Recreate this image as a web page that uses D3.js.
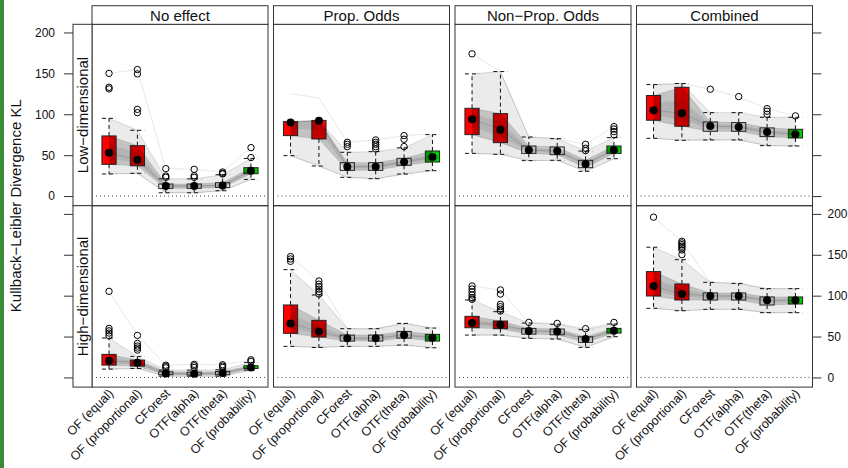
<!DOCTYPE html>
<html>
<head>
<meta charset="utf-8">
<script src="https://cdn.jsdelivr.net/npm/d3@7"></script>
<style>
  body { margin: 0; background: #fff; }
  svg { display: block; font-family: "Liberation Sans", Arial, Helvetica, sans-serif; }
</style>
</head>
<body>
<svg id="chart" width="848" height="468"></svg>
<script>
// ---- data ---------------------------------------------------------------
const methods = ["OF (equal)", "OF (proportional)", "CForest", "OTF(alpha)", "OTF(theta)", "OF (probability)"];
const effects = ["No effect", "Prop. Odds", "Non\u2212Prop. Odds", "Combined"];
const dimensions = ["Low\u2212dimensional", "High\u2212dimensional"];
const yTicks = [0, 50, 100, 150, 200];

// per method: [lower whisker, Q1, median, Q3, upper whisker]
const lowNoEffect = [
  [27, 38.8, 53, 73.5, 95], [27.8, 37, 44, 61.6, 80.4], [4, 9.4, 12.2, 14.7, 21],
  [4, 9.4, 12.2, 14.7, 21], [6.5, 10.6, 13, 16.3, 26], [20.4, 27.3, 31, 34.7, 46]];
const lowNoEffectOut = [[150, 133, 131], [154.7, 149.4, 106, 102], [33.5, 24.5, 22.9],
  [32.7, 24.9, 22.9], [29.4, 27.8, 27], [59.2, 47]];

const lowPropOdds = [
  [49.4, 73.9, 90, 91, 91], [36.7, 69.8, 92.2, 92.5, 92.5], [22.9, 31.4, 35.9, 40.8, 53.5],
  [21.2, 31.4, 35.9, 40.8, 54.3], [26.9, 37.6, 41.6, 46.1, 59], [31, 41.6, 47.8, 55.1, 75.1]];
const lowPropOddsOut = [[], [], [65.7, 63.3, 60.4], [68.6, 65.7, 63.3, 60.4, 57.6],
  [73.9, 69.4, 60.5], []];
// highest simulation traces reach above the boxes here
const lowPropOddsTraceTop = [125, 120, 56, 56, 62, 76];

const lowNonPropOdds = [
  [52.2, 75.1, 93.9, 107.3, 149.4], [51, 65.3, 81.2, 100.8, 152.2], [43.3, 52.2, 56.3, 61.2, 72.2],
  [43.7, 50.6, 55.1, 60, 70.2], [30.2, 34.7, 39.2, 43.7, 55], [45.7, 52.2, 56.3, 61.2, 71.4]];
const lowNonPropOddsOut = [[173.9], [], [], [], [63.3, 58.4, 55.5], [84.9, 82, 78.8, 75.1]];

const lowCombined = [
  [70.6, 92.7, 104.9, 122.9, 136.3], [68.2, 85.3, 101.2, 133, 137.6], [68.6, 79.2, 85.7, 90.6, 102],
  [68.6, 79.2, 84.5, 89.8, 102], [61.6, 72.7, 78.4, 83.3, 96.3], [61.2, 71, 75.5, 81.6, 96.3]];
const lowCombinedOut = [[], [], [130.6], [121.6], [106.9, 103.7, 100], [98]];

const highNoEffect = [
  [10.2, 15.1, 20.4, 28.2, 48.2], [11, 13.9, 18, 21.2, 25.7], [1.6, 3.3, 4.9, 6.9, 9],
  [1.6, 3, 4.5, 6.5, 9], [1.6, 3.3, 5.3, 7.3, 9.4], [9, 11, 12.2, 14.3, 18.4]];
const highNoEffectOut = [[105.3, 60, 57, 54.3, 51], [51.4, 41.6, 38.4, 36, 33.5], [15, 13.5, 11.8],
  [16, 14.3, 12.2], [15.5, 13.9, 12.2], [21.6, 19.6]];

const highPropOdds = [
  [38, 53.9, 66.1, 88.6, 131.8], [36.7, 49.4, 56.3, 69.8, 100.8], [38, 44.5, 47.8, 51.8, 59.6],
  [38, 44.5, 47.8, 51.8, 59.6], [39.6, 48.2, 51.8, 56.3, 66.1], [36.3, 44.5, 48.6, 52.7, 60.4]];
const highPropOddsOut = [[147.8, 144.9, 142], [118, 114, 111, 108, 105, 102], [], [], [], []];

const highNonPropOdds = [
  [51.8, 60.8, 66.5, 74.7, 94.7], [51.8, 59.6, 64.5, 69, 80.4], [47.8, 53, 56.7, 60, 66.5],
  [47, 52.2, 56.3, 59.2, 65], [36.7, 42.9, 46.9, 49.8, 58.4], [49.8, 54.3, 57.1, 60, 65.3]];
const highNonPropOddsOut = [[111.8, 108.2, 104.5, 100.8, 97.6, 95.5], [107, 102, 89.4, 86.5, 83.7, 81.2],
  [67.3], [66.1], [59.6], [67.3]];

const highCombined = [
  [84.5, 99.6, 111.8, 129.4, 159.2], [81.6, 94.7, 102, 114.3, 144], [83.3, 94.7, 99.6, 103.3, 116.3],
  [83.3, 94.7, 99.6, 103.3, 115], [79.2, 88.6, 94.3, 98.4, 108.6], [79.2, 89.8, 94.3, 98.4, 108.6]];
const highCombinedOut = [[196], [166.5, 164.5, 162.4, 160.4, 158.4, 155.9, 150.2], [], [], [], []];

const panels = [
  { row: 0, col: 0, stats: lowNoEffect, out: lowNoEffectOut },
  { row: 0, col: 1, stats: lowPropOdds, out: lowPropOddsOut, top: lowPropOddsTraceTop },
  { row: 0, col: 2, stats: lowNonPropOdds, out: lowNonPropOddsOut },
  { row: 0, col: 3, stats: lowCombined, out: lowCombinedOut },
  { row: 1, col: 0, stats: highNoEffect, out: highNoEffectOut },
  { row: 1, col: 1, stats: highPropOdds, out: highPropOddsOut },
  { row: 1, col: 2, stats: highNonPropOdds, out: highNonPropOddsOut },
  { row: 1, col: 3, stats: highCombined, out: highCombinedOut }
];

// ---- layout & style -----------------------------------------------------
const boxFill = ["#ff0000", "#ff0000", "none", "none", "none", "#00cc00"];
const colLeft = [92, 273.5, 455, 636.5];
const panelW = 176;
const rowTop = [24.3, 205.7];
const panelH = 181.4;
const stripTop = 5.7, stripH = 18.6;
const rowStripX = 73, rowStripW = 19;
const yDomain = [-11.8, 210];
const frame = "#333";

const svg = d3.select("#chart");

svg.append("rect").attr("x", 0).attr("y", 0).attr("width", 4).attr("height", 468).attr("fill", "#3b8a35");

const rowScale = r => d3.scaleLinear().domain(yDomain).range([rowTop[r] + panelH, rowTop[r]]);

// panels
panels.forEach((p, pi) => {
  const x0 = colLeft[p.col];
  const x = d3.scaleBand().domain(methods).range([x0, x0 + panelW]).paddingInner(0).paddingOuter(0.1);
  const y = rowScale(p.row);
  const cx = m => x(m) + x.bandwidth() / 2;
  const bw = x.step() * 0.5;

  const clipId = "clip" + pi;
  svg.append("clipPath").attr("id", clipId).append("rect")
    .attr("x", x0).attr("y", rowTop[p.row]).attr("width", panelW).attr("height", panelH);
  const g = svg.append("g").attr("clip-path", `url(#${clipId})`);

  // zero reference line
  g.append("line")
    .attr("x1", x0 + 4).attr("x2", x0 + panelW - 3)
    .attr("y1", y(0)).attr("y2", y(0))
    .attr("stroke", "#444").attr("stroke-width", 1).attr("stroke-dasharray", "1,3");

  const rows = methods.map((m, i) => ({
    m,
    s: p.stats[i],
    out: p.out[i],
    hiEnv: Math.max(p.stats[i][4], ...p.out[i], p.top ? p.top[i] : -Infinity),
    loEnv: Math.min(p.stats[i][0], ...p.out[i])
  }));

  // box fills
  g.selectAll(null).data(rows).join("rect")
    .attr("x", d => cx(d.m) - bw / 2).attr("width", bw)
    .attr("y", d => y(d.s[3])).attr("height", d => Math.max(0.5, y(d.s[1]) - y(d.s[3])))
    .attr("fill", (d, i) => boxFill[i]);

  // simulation traces, summarised as bands between the quantile levels
  const band = (lo, hi) => d3.area().x(d => cx(d.m)).y0(d => y(lo(d))).y1(d => y(hi(d)));
  g.append("path").datum(rows).attr("d", band(d => d.s[0], d => d.s[4]))
    .attr("fill", "#000").attr("fill-opacity", 0.08);
  g.append("path").datum(rows).attr("d", band(d => d.s[1], d => d.s[3]))
    .attr("fill", "#000").attr("fill-opacity", 0.17);
  g.append("path").datum(rows).attr("d", band(d => (d.s[1] + d.s[2]) / 2, d => (d.s[2] + d.s[3]) / 2))
    .attr("fill", "#000").attr("fill-opacity", 0.08);
  const levels = [d => d.loEnv, d => d.hiEnv, d => d.s[0], d => d.s[1], d => d.s[2], d => d.s[3], d => d.s[4]];
  levels.forEach((f, li) => {
    g.append("path").datum(rows)
      .attr("d", d3.line().x(d => cx(d.m)).y(d => y(f(d))))
      .attr("fill", "none").attr("stroke", "#000")
      .attr("stroke-opacity", li < 2 ? 0.12 : 0.16).attr("stroke-width", 0.8);
  });

  // whiskers
  const wk = g.append("g").attr("stroke", "#111").attr("stroke-width", 1).attr("stroke-dasharray", "4,3");
  rows.forEach(d => {
    const c = cx(d.m);
    if (d.s[4] > d.s[3]) {
      wk.append("line").attr("x1", c).attr("x2", c).attr("y1", y(d.s[3])).attr("y2", y(d.s[4]));
      wk.append("line").attr("x1", c - bw / 2).attr("x2", c + bw / 2).attr("y1", y(d.s[4])).attr("y2", y(d.s[4]));
    }
    if (d.s[0] < d.s[1]) {
      wk.append("line").attr("x1", c).attr("x2", c).attr("y1", y(d.s[1])).attr("y2", y(d.s[0]));
      wk.append("line").attr("x1", c - bw / 2).attr("x2", c + bw / 2).attr("y1", y(d.s[0])).attr("y2", y(d.s[0]));
    }
  });

  // box outlines
  g.selectAll(null).data(rows).join("rect")
    .attr("x", d => cx(d.m) - bw / 2).attr("width", bw)
    .attr("y", d => y(d.s[3])).attr("height", d => Math.max(0.5, y(d.s[1]) - y(d.s[3])))
    .attr("fill", "none").attr("stroke", "#222").attr("stroke-width", 1);

  // medians
  g.selectAll(null).data(rows).join("circle")
    .attr("cx", d => cx(d.m)).attr("cy", d => y(d.s[2])).attr("r", 4).attr("fill", "#000");

  // outliers
  rows.forEach(d => {
    g.selectAll(null).data(d.out).join("circle")
      .attr("cx", cx(d.m)).attr("cy", v => y(v)).attr("r", 3.2)
      .attr("fill", "none").attr("stroke", "#000").attr("stroke-width", 1);
  });

  // panel frame
  svg.append("rect").attr("x", x0).attr("y", rowTop[p.row]).attr("width", panelW).attr("height", panelH)
    .attr("fill", "none").attr("stroke", frame).attr("stroke-width", 1);

  // category labels under the bottom row
  if (p.row === 1) {
    svg.append("g").selectAll("text").data(methods).join("text")
      .attr("transform", m => `translate(${cx(m) + 2},${rowTop[1] + panelH + 4}) rotate(-45)`)
      .attr("text-anchor", "end").attr("dy", "0.35em")
      .attr("font-size", 12.5).attr("fill", "#111")
      .text(m => m);
  }
});

// column strips
effects.forEach((e, c) => {
  svg.append("rect").attr("x", colLeft[c]).attr("y", stripTop).attr("width", panelW).attr("height", stripH)
    .attr("fill", "#fff").attr("stroke", frame).attr("stroke-width", 1);
  svg.append("text").attr("x", colLeft[c] + panelW / 2).attr("y", stripTop + 15)
    .attr("text-anchor", "middle").attr("font-size", 15).attr("fill", "#111").text(e);
});

// row strips
dimensions.forEach((d, r) => {
  svg.append("rect").attr("x", rowStripX).attr("y", rowTop[r]).attr("width", rowStripW).attr("height", panelH)
    .attr("fill", "#fff").attr("stroke", frame).attr("stroke-width", 1);
  svg.append("text")
    .attr("transform", `translate(${rowStripX + 15},${rowTop[r] + panelH / 2}) rotate(-90)`)
    .attr("text-anchor", "middle").attr("font-size", 15).attr("fill", "#111").text(d);
});

// axes: labels alternate between the left (top row) and right (bottom row)
[0, 1].forEach(r => {
  const y = rowScale(r);
  const left = svg.append("g").attr("transform", `translate(${rowStripX},0)`)
    .call(d3.axisLeft(y).tickValues(yTicks).tickSize(9).tickPadding(9)
      .tickFormat(r === 0 ? d3.format("d") : () => ""));
  const right = svg.append("g").attr("transform", `translate(${colLeft[3] + panelW},0)`)
    .call(d3.axisRight(y).tickValues(yTicks).tickSize(9).tickPadding(6)
      .tickFormat(r === 1 ? d3.format("d") : () => ""));
  [left, right].forEach(a => {
    a.select(".domain").remove();
    a.selectAll(".tick line").attr("stroke", "#333");
    a.selectAll(".tick text").attr("font-size", 12).attr("fill", "#111")
      .attr("font-family", "Liberation Sans, Arial, sans-serif");
  });
});

// y axis title
svg.append("text")
  .attr("transform", `translate(20.5,${(rowTop[0] + rowTop[1] + panelH) / 2}) rotate(-90)`)
  .attr("text-anchor", "middle").attr("font-size", 15).attr("fill", "#111")
  .text("Kullback\u2212Leibler Divergence KL");
</script>
</body>
</html>
